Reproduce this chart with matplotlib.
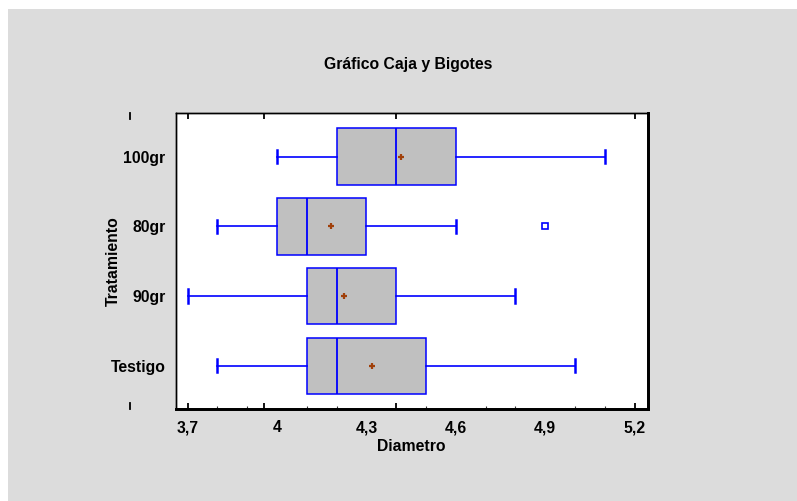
import matplotlib
matplotlib.use("Agg")
import matplotlib.pyplot as plt
from matplotlib.lines import Line2D
from matplotlib.patches import Rectangle

plt.rcParams['font.family'] = ['Liberation Sans', 'DejaVu Sans']

categories = ["Testigo", "90gr", "80gr", "100gr"]
whislo = [3.8, 3.7, 3.8, 4.0]
q1 = [4.1, 4.1, 4.0, 4.2]
med = [4.2, 4.2, 4.1, 4.4]
q3 = [4.5, 4.4, 4.3, 4.6]
whishi = [5.0, 4.8, 4.6, 5.1]
means = [4.32, 4.225, 4.18, 4.415]
outliers = [[], [], [4.9], []]

xtick_vals = [3.7, 4.0, 4.3, 4.6, 4.9, 5.2]
xtick_labels = ["3,7", "4", "4,3", "4,6", "4,9", "5,2"]

W, H = 797, 501
fig = plt.figure(figsize=(W / 100, H / 100), dpi=100)
fig.patch.set_facecolor('white')
fig.add_artist(Rectangle((8 / W, 0), 1 - 8 / W, 1 - 9 / H, transform=fig.transFigure,
                         facecolor='#dcdcdc', edgecolor='none', zorder=-10))

L, R, T, B = 175.7, 647.7, 113.3, 409.0
ax = fig.add_axes([L / W, (H - B) / H, (R - L) / W, (B - T) / H])
ax.set_facecolor('white')

stats = []
for i in range(len(categories)):
    stats.append(dict(label=categories[i], whislo=whislo[i], q1=q1[i], med=med[i],
                      q3=q3[i], whishi=whishi[i], mean=means[i], fliers=outliers[i]))

blue = '#0000ff'
ax.bxp(stats, positions=range(len(categories)), vert=False, widths=0.81,
       capwidths=0.19, patch_artist=True, showmeans=True, showfliers=True,
       boxprops=dict(facecolor='#c0c0c0', edgecolor=blue, linewidth=1.1),
       medianprops=dict(color=blue, linewidth=1.3),
       whiskerprops=dict(color=blue, linewidth=1.2),
       capprops=dict(color=blue, linewidth=1.8),
       meanprops=dict(marker='+', markeredgecolor='#a0400a', markersize=5, markeredgewidth=1.6),
       flierprops=dict(marker='s', markerfacecolor='white', markeredgecolor=blue,
                       markersize=4.5, markeredgewidth=1.2))

ax.set_xlim(3.660, 5.244)
ax.set_ylim(-0.62, 3.62)

ax.set_yticks(range(len(categories)))
ax.set_yticklabels(categories, fontsize=11.3, fontweight='bold')
ax.tick_params(axis='y', length=0, pad=7.5)

ax.set_xticks(xtick_vals)
ax.set_xticklabels(xtick_labels, fontsize=11.3, fontweight='bold')
ax.tick_params(axis='x', which='major', length=0, pad=8)
minor = [3.8, 3.9, 4.1, 4.2, 4.5, 4.6, 4.7, 4.8, 4.9, 5.0, 5.1]
ax.set_xticks(minor, minor=True)
ax.tick_params(axis='x', which='minor', direction='in', length=2.2, width=0.8,
               top=True, bottom=True, color='#333333')

ax2 = ax.twiny()
ax2.set_xlim(ax.get_xlim())
ax2.set_xticks([3.7, 3.957, 4.4, 5.2])
ax2.tick_params(axis='x', direction='in', length=4.3, width=1.3, top=True, bottom=True,
                labeltop=False, labelbottom=False, color='black')
for a in (ax, ax2):
    a.spines['left'].set_linewidth(1.0)
    a.spines['top'].set_linewidth(1.0)
    a.spines['right'].set_linewidth(2.0)
    a.spines['bottom'].set_linewidth(2.0)

ax.set_xlabel("Diametro", fontsize=11.3, fontweight='bold', labelpad=3)
ax.set_ylabel("Tratamiento", fontsize=11.3, fontweight='bold')
ax.yaxis.set_label_coords((121 - L) / (R - L), 0.5)

fig.text(408 / W, 1 - 65 / H, "Gráfico Caja y Bigotes", fontsize=11.3, fontweight='bold',
         ha='center', va='center')

for yy in (113.3, 403.0):
    fig.add_artist(Line2D([129.5 / W, 129.5 / W], [1 - yy / H, 1 - (yy + 6) / H],
                          transform=fig.transFigure, color='black', linewidth=1.3))

fig.savefig("out.png", dpi=100, facecolor=fig.get_facecolor())
